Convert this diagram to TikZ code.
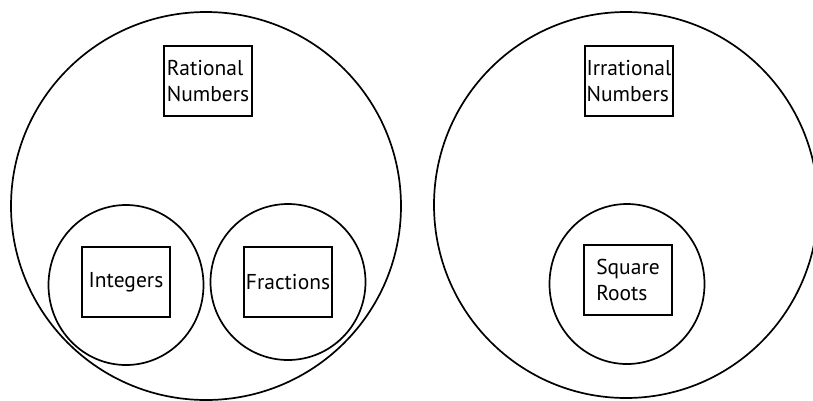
\documentclass[tikz,border=0pt]{standalone}
\usepackage{fontspec}
\setmainfont{PT Sans}
\usetikzlibrary{
    shapes.geometric,
    positioning
}
\tikzset{
  set/.style = {
      draw,
      ellipse,
      line width=1.7pt,
      inner sep=0pt
  },
  bigset/.style = {
      set,
      minimum width=390pt,
      minimum height=388pt
  },
  subset/.style = {
      set,
      minimum width=155pt,
      minimum height=160pt
  },
  tag/.style = {
      draw,
      rectangle,
      line width=2.2pt,
      minimum width=88pt,
      minimum height=70pt,
      inner sep=1pt,
      align=left,
      font=\fontsize{21.5}{26}\selectfont
  }
}
\begin{document}
\begin{tikzpicture}[x=1pt, y=-1pt]
    \useasboundingbox (0,0) rectangle (813,400);
    % Sets
    \node[bigset] (rat) at (206,206) {};
    \node[bigset, minimum width=384pt, minimum height=386pt] (irr) at (626,205) {};
    \node[subset] (int) at (126,285) {};
    \node[subset, minimum height=156pt] (fra) at (288,282) {};
    \node[subset] (sqr) at (627,284) {};
    % Labels
    \node[tag] (ratl) at (208,81) {Rational\\Numbers};
    \node[tag] (irrl) at (629,81) {Irrational\\Numbers};
    \node[tag] (intl) at (126,282) {Integers};
    \node[tag] (fral) at (288,282) {Fractions};
    \node[tag] (sqrl) at (628,280) {Square\\Roots};
\end{tikzpicture}
\end{document}
